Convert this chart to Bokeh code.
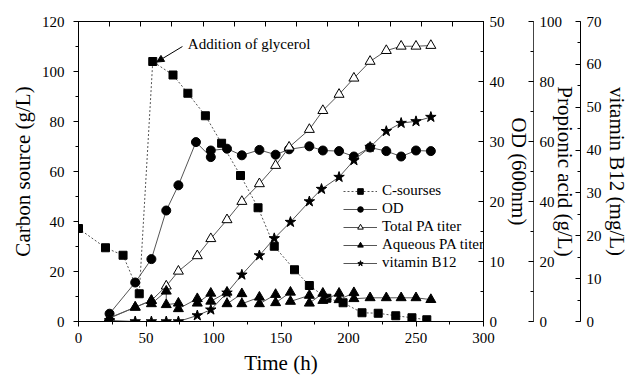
from bokeh.plotting import figure
from bokeh.models import (Range1d, LinearAxis, SingleIntervalTicker, Legend, LegendItem,
                          Arrow, NormalHead, Label, CustomJSTickFormatter)
from bokeh.embed import file_html
from bokeh.resources import INLINE

FONT = "Liberation Serif"

# ---- data ----
c_time = [0, 20, 33, 45, 55, 70, 81, 94, 106, 120, 133, 145, 160, 171, 184, 196, 210, 222, 235, 247, 258]
c_source = [37.2, 29.5, 26.5, 11.1, 104, 98.6, 91.3, 82.3, 71.3, 58.4, 45.5, 30.1, 20.7, 14.4, 9.3, 7.5, 3.5, 3.3, 2.3, 1.5, 0.7]

od_time = [23, 42, 54, 65, 74, 87, 98, 98, 110, 121, 134, 146, 156, 171, 181, 193, 204, 216, 228, 239, 250, 261]
od_value = [1.3, 6.5, 10.4, 18.5, 22.7, 29.9, 27.4, 28.5, 28.8, 27.7, 28.6, 27.8, 28.7, 29.2, 28.5, 28.4, 27.5, 29.0, 28.4, 27.5, 28.5, 28.4]

tpa_time = [23, 42, 54, 65, 74, 88, 98, 110, 121, 134, 146, 156, 171, 181, 193, 204, 216, 228, 239, 250, 261]
tpa_value = [1.25, 4.75, 7.0, 11.8, 16.75, 21.9, 27.6, 33.9, 40.0, 45.9, 52.0, 58.1, 64.0, 70.3, 75.7, 81.1, 86.7, 90.3, 91.75, 91.75, 92.0]

apa_time = [23, 42, 54, 54, 65, 65, 74, 74, 88, 88, 98, 98, 110, 110, 121, 121, 134, 134, 146, 146,
            157, 157, 171, 171, 181, 181, 193, 193, 204, 204, 216, 228, 239, 250, 261]
apa_value = [1.1, 4.75, 7.0, 5.9, 10.1, 5.6, 6.1, 4.25, 7.6, 6.1, 9.4, 6.75, 9.75, 5.9, 9.25, 5.9, 8.1, 5.9, 9.0, 6.25,
             9.75, 6.7, 8.7, 6.1, 9.4, 7.0, 9.4, 7.25, 9.6, 7.6, 7.9, 7.9, 7.9, 7.9, 7.3]

b12_time = [23, 42, 54, 65, 74, 88, 98, 110, 121, 134, 145, 157, 171, 180, 193, 204, 216, 228, 239, 250, 261]
b12_value = [0.23, 0, 0, 0, 0, 1.4, 2.75, 6.7, 10.9, 15.4, 19.4, 23.2, 28.0, 30.9, 33.7, 37.6, 40.7, 44.4, 46.3, 46.7, 47.7]

LINE = "#555555"

p = figure(width=631, height=377, output_backend="svg", toolbar_location=None,
           x_range=Range1d(0, 300), y_range=Range1d(0, 120),
           min_border_left=78, min_border_top=21, min_border_bottom=56, min_border_right=0)
p.extra_y_ranges = {"od": Range1d(0, 50), "pa": Range1d(0, 100), "b12": Range1d(0, 70)}
p.extra_x_ranges = {"top": Range1d(0, 260)}

p.xgrid.visible = False
p.ygrid.visible = False
p.outline_line_color = "black"
p.outline_line_width = 1
p.background_fill_color = "white"
p.border_fill_color = "white"


def style_axis(ax, tick_in, tick_out, minor_in, minor_out, standoff, label_standoff):
    ax.axis_line_color = "black"
    ax.major_tick_line_color = "black"
    ax.minor_tick_line_color = "black"
    ax.major_tick_in = tick_in
    ax.major_tick_out = tick_out
    ax.minor_tick_in = minor_in
    ax.minor_tick_out = minor_out
    ax.major_label_text_font = FONT
    ax.major_label_text_font_size = "15px"
    ax.major_label_text_color = "black"
    ax.major_label_standoff = standoff
    ax.axis_label_text_font = FONT
    ax.axis_label_text_font_size = "21px"
    ax.axis_label_text_font_style = "normal"
    ax.axis_label_text_color = "black"
    ax.axis_label_standoff = label_standoff


# bottom axis
xb = p.below[0]
xb.ticker = SingleIntervalTicker(interval=50, num_minor_ticks=2)
xb.axis_label = "Time (h)"
style_axis(xb, 0, 5, 0, 3, 6, 5)

# left axis
yl = p.left[0]
yl.ticker = SingleIntervalTicker(interval=20, num_minor_ticks=2)
yl.axis_label = "Carbon source (g/L)"
style_axis(yl, 0, 5, 0, 3, 9, 4)

# top ticks (no labels)
xt = LinearAxis(x_range_name="top", ticker=SingleIntervalTicker(interval=20, num_minor_ticks=0),
                formatter=CustomJSTickFormatter(code="return ''"))
style_axis(xt, 5, 0, 0, 0, 0, 0)
p.add_layout(xt, "above")

# right axes
ax_od = LinearAxis(y_range_name="od", axis_label="OD (600nm)",
                   ticker=SingleIntervalTicker(interval=10, num_minor_ticks=2))
style_axis(ax_od, 5, 0, 3, 0, 6, -1)
p.add_layout(ax_od, "right")

ax_pa = LinearAxis(y_range_name="pa", axis_label="Propionic acid (g/L)",
                   ticker=SingleIntervalTicker(interval=20, num_minor_ticks=2))
style_axis(ax_pa, 5, 0, 3, 0, 6, -12)
ax_pa.axis_line_color = "#444444"
p.add_layout(ax_pa, "right")

ax_b12 = LinearAxis(y_range_name="b12", axis_label="vitamin B12 (mg/L)",
                    ticker=SingleIntervalTicker(interval=10, num_minor_ticks=2))
style_axis(ax_b12, 5, 0, 3, 0, 6, 0)
p.add_layout(ax_b12, "right")

# ---- series ----
c_l = p.line(c_time, c_source, line_color=LINE, line_width=1, line_dash="2 2")
c_m = p.scatter(c_time, c_source, marker="square", size=8, color="black")

od_l = p.line(od_time, od_value, y_range_name="od", line_color=LINE, line_width=1)
od_m = p.scatter(od_time, od_value, y_range_name="od", marker="circle", size=9, color="black")

tpa_l = p.line(tpa_time, tpa_value, y_range_name="pa", line_color=LINE, line_width=1)
tpa_m = p.scatter(tpa_time, tpa_value, y_range_name="pa", marker="triangle", size=10,
                  fill_color="white", line_color="black", line_width=1)

apa_l = p.line(apa_time, apa_value, y_range_name="pa", line_color=LINE, line_width=1)
apa_m = p.scatter(apa_time, apa_value, y_range_name="pa", marker="triangle", size=10, color="black")

b12_l = p.line(b12_time, b12_value, y_range_name="b12", line_color=LINE, line_width=1)
b12_m = p.scatter(b12_time, b12_value, y_range_name="b12", marker="star", size=11, color="black")

legend = Legend(items=[
    LegendItem(label="C-sourses", renderers=[c_l, c_m]),
    LegendItem(label="OD", renderers=[od_l, od_m]),
    LegendItem(label="Total PA titer", renderers=[tpa_l, tpa_m]),
    LegendItem(label="Aqueous PA titer", renderers=[apa_l, apa_m]),
    LegendItem(label="vitamin B12", renderers=[b12_l, b12_m]),
], location=(265, 50))
legend.border_line_color = None
legend.background_fill_alpha = 0
legend.padding = 0
legend.margin = 0
legend.spacing = 1
legend.glyph_width = 34
legend.glyph_height = 14
legend.label_height = 14
legend.label_standoff = 5
legend.label_text_font = FONT
legend.label_text_font_size = "15px"
legend.label_text_color = "black"
p.add_layout(legend)

# annotation
p.add_layout(Arrow(end=NormalHead(size=7, fill_color="black", line_color="black"),
                   x_start=77, y_start=110, x_end=58, y_end=103.8,
                   line_color="black", line_width=1))
p.add_layout(Label(x=81, y=111.1, text="Addition of glycerol", text_font=FONT,
                   text_font_size="15px", text_baseline="middle", text_color="black"))

open("out.html", "w").write(file_html(p, INLINE))
